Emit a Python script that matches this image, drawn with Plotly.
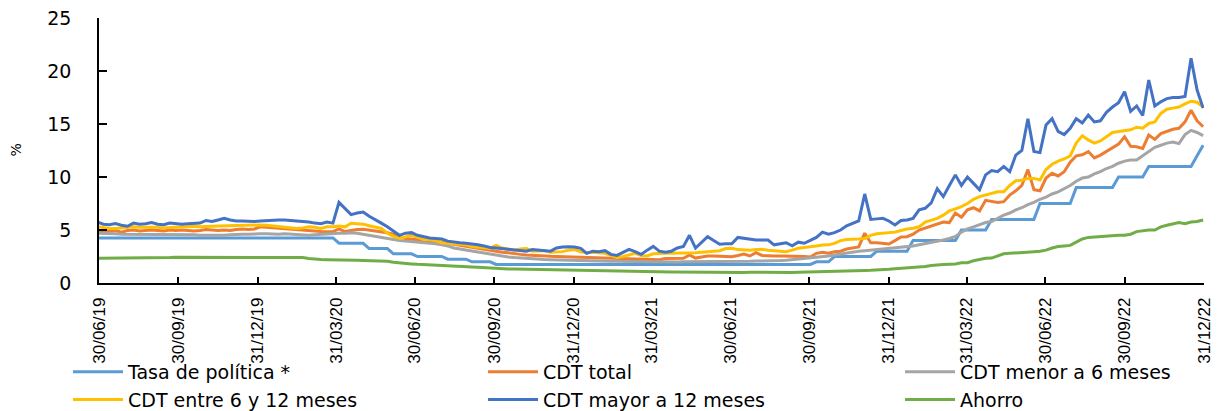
import pandas as pd
import plotly.graph_objects as go

# Weekly observation dates (Fridays), 28/06/2019 .. 30/12/2022
DATES = pd.date_range("2019-06-28", periods=184, freq="7D")

TICK_DATES = ["2019-06-30", "2019-09-30", "2019-12-31", "2020-03-31", "2020-06-30",
              "2020-09-30", "2020-12-31", "2021-03-31", "2021-06-30", "2021-09-30",
              "2021-12-31", "2022-03-31", "2022-06-30", "2022-09-30", "2022-12-31"]
TICK_LABELS = ["30/06/19", "30/09/19", "31/12/19", "31/03/20", "30/06/20",
               "30/09/20", "31/12/20", "31/03/21", "30/06/21", "30/09/21",
               "31/12/21", "31/03/22", "30/06/22", "30/09/22", "31/12/22"]

Y_TICKS = [0, 5, 10, 15, 20, 25]

NAMES = ["Tasa de política *", "CDT total", "CDT menor a 6 meses",
         "CDT entre 6 y 12 meses", "CDT mayor a 12 meses", "Ahorro"]

tasa_politica = [
    4.25, 4.25, 4.25, 4.25, 4.25, 4.25, 4.25, 4.25, 4.25, 4.25, 4.25, 4.25, 4.25,
    4.25, 4.25, 4.25, 4.25, 4.25, 4.25, 4.25, 4.25, 4.25, 4.25, 4.25, 4.25, 4.25,
    4.25, 4.25, 4.25, 4.25, 4.25, 4.25, 4.25, 4.25, 4.25, 4.25, 4.25, 4.25, 4.25,
    4.25, 3.75, 3.75, 3.75, 3.75, 3.75, 3.25, 3.25, 3.25, 3.25, 2.75, 2.75, 2.75,
    2.75, 2.5, 2.5, 2.5, 2.5, 2.5, 2.25, 2.25, 2.25, 2.25, 2.0, 2.0, 2.0,
    2.0, 1.75, 1.75, 1.75, 1.75, 1.75, 1.75, 1.75, 1.75, 1.75, 1.75, 1.75, 1.75,
    1.75, 1.75, 1.75, 1.75, 1.75, 1.75, 1.75, 1.75, 1.75, 1.75, 1.75, 1.75, 1.75,
    1.75, 1.75, 1.75, 1.75, 1.75, 1.75, 1.75, 1.75, 1.75, 1.75, 1.75, 1.75, 1.75,
    1.75, 1.75, 1.75, 1.75, 1.75, 1.75, 1.75, 1.75, 1.75, 1.75, 1.75, 1.75, 1.75,
    1.75, 1.75, 2.0, 2.0, 2.0, 2.5, 2.5, 2.5, 2.5, 2.5, 2.5, 2.5, 3.0,
    3.0, 3.0, 3.0, 3.0, 3.0, 4.0, 4.0, 4.0, 4.0, 4.0, 4.0, 4.0, 4.0,
    5.0, 5.0, 5.0, 5.0, 5.0, 6.0, 6.0, 6.0, 6.0, 6.0, 6.0, 6.0, 6.0,
    7.5, 7.5, 7.5, 7.5, 7.5, 7.5, 9.0, 9.0, 9.0, 9.0, 9.0, 9.0, 9.0,
    10.0, 10.0, 10.0, 10.0, 10.0, 11.0, 11.0, 11.0, 11.0, 11.0, 11.0, 11.0, 11.0,
    12.0, 13.0,
]

cdt_total = [
    5.0, 4.85, 4.9, 4.95, 4.8, 4.95, 5.0, 4.9, 4.95, 5.0, 4.95, 4.9, 5.0,
    4.95, 5.0, 4.95, 4.9, 4.95, 5.05, 5.0, 4.95, 5.0, 4.95, 5.05, 5.1, 5.05,
    5.1, 5.3, 5.25, 5.2, 5.15, 5.1, 5.05, 5.0, 4.95, 4.9, 4.85, 4.85, 4.84,
    4.85, 5.1, 4.85, 4.95, 5.05, 5.07, 5.0, 4.9, 4.85, 4.75, 4.6, 4.3, 4.2,
    4.15, 4.1, 4.05, 4.0, 3.9, 3.85, 3.75, 3.65, 3.55, 3.45, 3.35, 3.25, 3.15,
    3.05, 2.95, 2.9, 2.85, 2.75, 2.7, 2.65, 2.6, 2.57, 2.55, 2.52, 2.5, 2.48,
    2.45, 2.43, 2.42, 2.42, 2.4, 2.4, 2.38, 2.35, 2.33, 2.3, 2.28, 2.25, 2.2,
    2.18, 2.17, 2.2, 2.3, 2.33, 2.33, 2.33, 2.64, 2.35, 2.45, 2.55, 2.55, 2.55,
    2.5, 2.48, 2.6, 2.74, 2.55, 2.86, 2.6, 2.55, 2.55, 2.55, 2.55, 2.55, 2.55,
    2.5, 2.45, 2.8, 2.9, 2.8, 2.95, 3.0, 3.2, 3.3, 3.4, 4.7, 3.8, 3.8,
    3.75, 3.68, 4.0, 4.35, 4.37, 4.6, 5.0, 5.2, 5.35, 5.6, 5.75, 5.7, 6.6,
    6.2, 6.9, 7.1, 6.8, 7.8, 7.67, 7.6, 7.67, 8.3, 8.7, 9.2, 10.7, 8.8,
    8.7, 9.9, 10.35, 10.1, 10.5, 11.4, 12.0, 12.1, 12.4, 11.8, 12.07, 12.4, 12.8,
    13.1, 13.8, 12.9, 12.86, 12.7, 13.96, 13.55, 14.1, 14.3, 14.5, 14.6, 15.2, 16.3,
    15.3, 14.75,
]

cdt_menor_6m = [
    4.7, 4.7, 4.65, 4.65, 4.6, 4.6, 4.6, 4.55, 4.55, 4.55, 4.6, 4.6, 4.55,
    4.55, 4.6, 4.6, 4.55, 4.5, 4.5, 4.45, 4.5, 4.5, 4.55, 4.6, 4.6, 4.6,
    4.65, 4.65, 4.65, 4.6, 4.6, 4.65, 4.6, 4.6, 4.55, 4.5, 4.55, 4.6, 4.65,
    4.7, 4.7, 4.7, 4.75, 4.7, 4.6, 4.5, 4.4, 4.3, 4.15, 4.05, 4.0, 3.95,
    3.9, 3.88, 3.85, 3.8, 3.7, 3.6, 3.5, 3.3, 3.2, 3.1, 3.0, 2.9, 2.8,
    2.7, 2.6, 2.5, 2.45, 2.4, 2.35, 2.3, 2.28, 2.25, 2.22, 2.2, 2.18, 2.15,
    2.12, 2.1, 2.1, 2.08, 2.08, 2.07, 2.06, 2.05, 2.05, 2.03, 2.02, 2.0, 2.0,
    2.0, 2.0, 2.0, 1.98, 1.98, 1.98, 2.0, 2.0, 2.0, 1.98, 1.98, 2.0, 2.0,
    2.0, 2.02, 2.03, 2.05, 2.05, 2.07, 2.07, 2.08, 2.1, 2.12, 2.15, 2.2, 2.25,
    2.3, 2.35, 2.45, 2.5, 2.55, 2.65, 2.75, 2.85, 2.95, 3.0, 3.05, 3.1, 3.15,
    3.2, 3.25, 3.3, 3.35, 3.4, 3.5, 3.6, 3.7, 3.85, 3.95, 4.05, 4.2, 4.4,
    4.8, 5.1, 5.3, 5.5, 5.7, 5.8, 6.1, 6.4, 6.6, 6.9, 7.1, 7.4, 7.6,
    7.9, 8.1, 8.4, 8.6, 8.9, 9.2, 9.6, 9.9, 10.0, 10.3, 10.5, 10.8, 11.0,
    11.3, 11.5, 11.6, 11.6, 12.0, 12.4, 12.8, 13.0, 13.2, 13.3, 13.15, 14.0, 14.4,
    14.2, 13.9,
]

cdt_6_12m = [
    5.3, 5.2, 5.15, 5.15, 5.2, 5.25, 5.3, 5.25, 5.25, 5.3, 5.25, 5.2, 5.25,
    5.3, 5.3, 5.3, 5.35, 5.3, 5.3, 5.35, 5.38, 5.4, 5.42, 5.45, 5.45, 5.45,
    5.45, 5.47, 5.45, 5.4, 5.35, 5.3, 5.2, 5.15, 5.2, 5.3, 5.25, 5.15, 5.3,
    5.3, 5.38, 5.3, 5.63, 5.6, 5.55, 5.4, 5.3, 5.15, 4.7, 4.4, 4.2, 4.37,
    4.5, 4.3, 4.1, 4.1, 4.0, 3.8, 3.75, 3.7, 3.65, 3.6, 3.45, 3.4, 3.3,
    3.27, 3.55, 3.3, 3.2, 3.1, 3.2, 3.25, 3.0, 3.05, 3.05, 2.9, 2.95, 2.96,
    3.1, 3.15, 2.95, 2.86, 2.9, 2.85, 2.8, 2.6, 2.4, 2.5, 2.65, 2.8, 2.6,
    2.55, 2.75, 2.8, 2.8, 2.8, 2.8, 2.85, 2.85, 2.85, 2.9, 2.96, 3.0, 3.05,
    3.25, 3.27, 3.15, 3.1, 3.1, 3.15, 3.18, 3.1, 3.05, 3.0, 2.96, 3.1, 3.27,
    3.35, 3.4, 3.5, 3.58, 3.6, 3.74, 4.0, 4.1, 4.1, 4.15, 4.2, 4.5, 4.65,
    4.72, 4.75, 4.8, 4.95, 5.1, 5.16, 5.3, 5.75, 5.9, 6.1, 6.4, 6.8, 7.0,
    7.2, 7.5, 7.9, 8.15, 8.3, 8.45, 8.6, 8.6, 9.2, 9.65, 9.7, 9.87, 9.87,
    9.72, 10.7, 11.2, 11.5, 11.7, 12.0, 13.2, 13.9, 13.5, 13.2, 13.4, 13.8, 14.2,
    14.3, 14.4, 14.45, 14.7, 14.6, 15.05, 15.2, 16.0, 16.4, 16.5, 16.6, 16.9, 17.15,
    17.05, 16.6,
]

cdt_mayor_12m = [
    5.75, 5.55, 5.5, 5.6, 5.45, 5.35, 5.65, 5.55, 5.6, 5.7, 5.55, 5.5, 5.65,
    5.6, 5.55, 5.6, 5.6, 5.65, 5.9, 5.8, 5.95, 6.1, 5.95, 5.85, 5.85, 5.8,
    5.8, 5.85, 5.9, 5.88, 5.94, 5.94, 5.9, 5.85, 5.8, 5.75, 5.65, 5.6, 5.75,
    5.65, 7.6, 7.0, 6.45, 6.6, 6.7, 6.3, 6.0, 5.65, 5.3, 4.9, 4.5, 4.7,
    4.75, 4.5, 4.35, 4.25, 4.2, 4.15, 3.95, 3.85, 3.8, 3.75, 3.7, 3.6, 3.5,
    3.35, 3.3, 3.25, 3.2, 3.1, 3.05, 3.0, 3.15, 3.1, 3.05, 3.0, 3.3, 3.4,
    3.42, 3.4, 3.27, 2.8, 3.0, 2.96, 3.05, 2.7, 2.6, 2.9, 3.18, 2.95, 2.7,
    3.1, 3.45, 3.0, 2.9, 3.0, 3.3, 3.45, 4.5, 3.3, 3.8, 4.37, 4.0, 3.65,
    3.7, 3.7, 4.3, 4.2, 4.1, 4.05, 4.05, 4.05, 3.6, 3.7, 3.8, 3.5, 3.85,
    3.75, 4.05, 4.3, 4.8, 4.6, 4.75, 5.0, 5.4, 5.65, 5.85, 8.4, 6.0, 6.05,
    6.1, 5.85, 5.47, 5.9, 5.94, 6.1, 6.9, 7.05, 7.55, 8.9, 8.15, 9.2, 10.2,
    9.2, 10.0, 9.4, 8.8, 10.2, 10.6, 10.5, 11.0, 10.5, 12.07, 12.5, 15.5, 12.4,
    12.3, 14.9, 15.5, 14.3, 14.0, 14.6, 15.5, 15.1, 15.85, 15.2, 15.3, 16.1, 16.6,
    17.0, 18.05, 16.2, 16.7, 15.8, 19.15, 16.7, 17.1, 17.4, 17.5, 17.5, 17.6, 21.2,
    18.2, 16.5,
]

ahorro = [
    2.33, 2.33, 2.34, 2.33, 2.35, 2.36, 2.36, 2.36, 2.38, 2.38, 2.39, 2.4, 2.4,
    2.42, 2.42, 2.42, 2.43, 2.42, 2.41, 2.4, 2.42, 2.44, 2.45, 2.46, 2.44, 2.43,
    2.45, 2.47, 2.47, 2.46, 2.45, 2.46, 2.47, 2.45, 2.4, 2.32, 2.25, 2.22, 2.2,
    2.2, 2.18, 2.16, 2.15, 2.14, 2.12, 2.1, 2.1, 2.08, 2.05, 1.95, 1.88, 1.85,
    1.8, 1.76, 1.74, 1.72, 1.7, 1.68, 1.66, 1.62, 1.6, 1.56, 1.52, 1.48, 1.44,
    1.4, 1.37, 1.35, 1.33, 1.31, 1.3, 1.28, 1.26, 1.24, 1.22, 1.2, 1.18, 1.17,
    1.15, 1.14, 1.13, 1.12, 1.12, 1.11, 1.1, 1.1, 1.09, 1.08, 1.08, 1.07, 1.07,
    1.06, 1.06, 1.05, 1.05, 1.04, 1.04, 1.03, 1.03, 1.02, 1.02, 1.02, 1.01, 1.01,
    1.01, 1.0, 1.0, 1.0, 1.01, 1.0, 1.0, 1.0, 1.01, 1.01, 1.0, 1.0, 1.01,
    1.02, 1.03, 1.05, 1.07, 1.1, 1.12, 1.14, 1.15, 1.15, 1.16, 1.18, 1.2, 1.22,
    1.25, 1.3, 1.35, 1.38, 1.4, 1.45, 1.5, 1.55, 1.65, 1.72, 1.75, 1.78, 1.8,
    1.9, 1.92, 2.1, 2.25, 2.33, 2.35, 2.55, 2.75, 2.8, 2.82, 2.85, 2.9, 2.95,
    3.0, 3.1, 3.3, 3.45, 3.5, 3.55, 3.85, 4.15, 4.3, 4.35, 4.4, 4.45, 4.5,
    4.5, 4.5, 4.6, 4.85, 4.95, 5.0, 5.0, 5.3, 5.45, 5.6, 5.7, 5.6, 5.75,
    5.8, 5.95,
]

SERIES = [tasa_politica, cdt_total, cdt_menor_6m, cdt_6_12m, cdt_mayor_12m, ahorro]
COLORS = ["#5B9BD5", "#ED7D31", "#A5A5A5", "#FFC000", "#4472C4", "#70AD47"]
LEGEND_OF = ["legend", "legend2", "legend3", "legend", "legend2", "legend3"]

# The page adds an 8px body margin, so the figure is drawn 8px smaller.
W, H = 1212, 403

fig = go.Figure()
for name, vals, col, lg in zip(NAMES, SERIES, COLORS, LEGEND_OF):
    fig.add_trace(go.Scatter(
        x=DATES, y=vals, name=name, mode="lines",
        line=dict(color=col, width=3),
        legend=lg,
    ))

LEG_FONT = dict(family="DejaVu Sans", size=19, color="#000000")
leg_common = dict(orientation="v", xref="container", yref="container",
                  xanchor="left", yanchor="top", y=1 - 345 / H,
                  bgcolor="rgba(0,0,0,0)", font=LEG_FONT, tracegroupgap=0,
                  itemwidth=50)

fig.update_layout(
    width=W, height=H,
    margin=dict(l=91, r=16, t=10, b=128, autoexpand=False),
    paper_bgcolor="white", plot_bgcolor="white",
    font=dict(family="DejaVu Sans", color="#000000"),
    legend=dict(x=60 / W, **leg_common),
    legend2=dict(x=475 / W, **leg_common),
    legend3=dict(x=892 / W, **leg_common),
    xaxis=dict(
        type="date",
        range=["2019-06-30", "2022-12-31"],
        tickmode="array", tickvals=TICK_DATES, ticktext=TICK_LABELS,
        tickangle=-90,
        tickfont=dict(family="Liberation Sans", size=17, color="#000000"),
        ticks="inside", ticklen=6, tickcolor="#000000", tickwidth=1.5,
        showline=True, linecolor="#000000", linewidth=1.5,
        showgrid=False, zeroline=False,
        ticklabelstandoff=6,
    ),
    yaxis=dict(
        range=[0, 25.001], tickmode="array", tickvals=Y_TICKS,
        ticktext=[str(v) for v in Y_TICKS],
        tickfont=dict(family="DejaVu Sans", size=19, color="#000000"),
        ticks="inside", ticklen=8, tickcolor="#000000", tickwidth=1.5,
        showline=True, linecolor="#000000", linewidth=1.5,
        showgrid=False, zeroline=False,
        ticklabelstandoff=22, ticklabeloverflow="allow",
    ),
    annotations=[dict(
        text="%", textangle=-90, showarrow=False,
        xref="paper", yref="paper", x=(7 - 91) / 1105, y=0.50,
        xanchor="center", yanchor="middle",
        font=dict(family="DejaVu Sans", size=14, color="#000000"),
    )],
)

fig.write_html("out.html")
